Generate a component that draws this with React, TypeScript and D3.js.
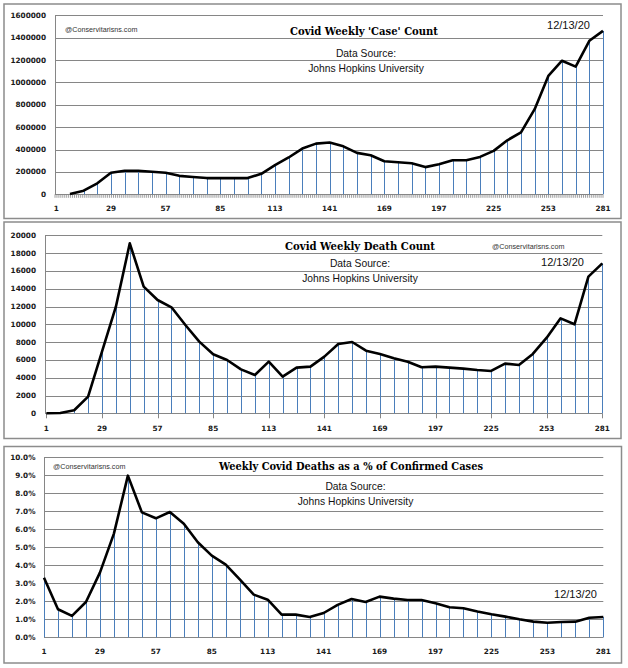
import React from "react";
import * as d3 from "d3";

// ---------- DATA ----------
const weekDays = [1, 8, 15, 22, 29, 36, 43, 50, 57, 64, 71, 78, 85, 92, 99, 106, 113, 120, 127, 134, 141, 148, 155, 162, 169, 176, 183, 190, 197, 204, 211, 218, 225, 232, 239, 246, 253, 260, 267, 274, 281];

const weeklyCases = [null, 3000, 32000, 98000, 192000, 210000, 210000, 201000, 192000, 165000, 154000, 145000, 145000, 145000, 145000, 183000, 260000, 329000, 409000, 453000, 463000, 429000, 370000, 349000, 296000, 287000, 278000, 243000, 269000, 305000, 305000, 334000, 388000, 483000, 554000, 761000, 1058000, 1194000, 1141000, 1372000, 1461000];

const weeklyDeaths = [10, 40, 340, 1870, 6930, 11980, 19100, 14230, 12730, 11910, 9920, 8050, 6630, 5990, 4940, 4310, 5800, 4120, 5130, 5240, 6370, 7790, 8010, 7040, 6670, 6180, 5800, 5170, 5240, 5130, 5020, 4870, 4760, 5580, 5430, 6670, 8500, 10670, 10000, 15350, 16850];

const deathPct = [3.31, 1.56, 1.19, 1.96, 3.59, 5.76, 8.98, 6.94, 6.61, 6.96, 6.31, 5.28, 4.54, 4.04, 3.22, 2.37, 2.09, 1.26, 1.26, 1.13, 1.35, 1.80, 2.13, 1.96, 2.26, 2.15, 2.07, 2.07, 1.89, 1.67, 1.61, 1.43, 1.28, 1.15, 1.00, 0.87, 0.81, 0.85, 0.87, 1.09, 1.13];

const xTickLabels = [1, 29, 57, 85, 113, 141, 169, 197, 225, 253, 281];
const caseTicks = [0, 200000, 400000, 600000, 800000, 1000000, 1200000, 1400000, 1600000];
const deathTicks = [0, 2000, 4000, 6000, 8000, 10000, 12000, 14000, 16000, 18000, 20000];
const pctTicks = [0, 1, 2, 3, 4, 5, 6, 7, 8, 9, 10];

const titles = [
  "Covid Weekly 'Case' Count",
  "Covid Weekly Death Count",
  "Weekly Covid Deaths as a % of Confirmed Cases",
];
const sourceLine1 = "Data Source:";
const sourceLine2 = "Johns Hopkins University";
const dateLabel = "12/13/20";
const watermark = "@Conservitarisns.com";

// ---------- STYLE ----------
const GRID = "#868686";
const DROP = "#4A7EBB";
const BORDER = "#8c8c8c";
const TICKFONT = "'DejaVu Sans', Verdana, sans-serif";
const SANS = "'Liberation Sans', Arial, sans-serif";
const SERIF = "'DejaVu Serif', 'Liberation Serif', serif";

type PanelCfg = {
  box: [number, number, number, number];
  axisX: number;
  x0: number;
  x1: number;
  yZero: number;
  yTop: number;
  yMax: number;
  ticks: number[];
  fmt: (v: number) => string;
  values: (number | null)[];
  labelY: number;
  labelRight: number;
  tickMode: "minor" | "major" | "none";
  title: [number, number, number];
  src: [number, number, number];
  date: [number, number];
  wm: [number, number, string];
};

function Panel({ c, title }: { c: PanelCfg; title: string }) {
  const x = d3.scaleLinear().domain([1, 281]).range([c.x0, c.x1]);
  const y = d3.scaleLinear().domain([0, c.yMax]).range([c.yZero, c.yTop]);
  const pts = weekDays.map((d, i) => ({ d, v: c.values[i] }));
  const line = d3
    .line<{ d: number; v: number | null }>()
    .defined((p) => p.v != null)
    .x((p) => x(p.d))
    .y((p) => y(p.v as number));
  const [bx, by, bw, bh] = c.box;
  const minor = d3.range(0, 282).map((k) => c.axisX + (k * (c.x1 - c.axisX)) / 281);
  return (
    <g>
      <rect x={bx} y={by} width={bw} height={bh} fill="white" stroke={BORDER} strokeWidth={1.5} />
      {c.ticks.map((t) => (
        <line key={"g" + t} x1={c.axisX} x2={c.x1} y1={Math.round(y(t)) + 0.5} y2={Math.round(y(t)) + 0.5} stroke={GRID} strokeWidth={1} />
      ))}
      <line x1={c.axisX + 0.5} x2={c.axisX + 0.5} y1={c.yTop} y2={c.yZero} stroke={GRID} strokeWidth={1} />
      {c.tickMode === "minor" &&
        minor.map((mx, k) => (
          <line key={"m" + k} x1={mx} x2={mx} y1={c.yZero} y2={c.yZero + 3.5} stroke={GRID} strokeWidth={0.8} />
        ))}
      {c.tickMode === "major" &&
        xTickLabels.map((d) => (
          <line key={"M" + d} x1={Math.round(x(d)) + 0.5} x2={Math.round(x(d)) + 0.5} y1={c.yZero} y2={c.yZero + 5} stroke={GRID} strokeWidth={1} />
        ))}
      {pts
        .filter((p) => p.v != null)
        .map((p) => (
          <line key={"d" + p.d} x1={Math.round(x(p.d)) + 0.5} x2={Math.round(x(p.d)) + 0.5} y1={y(p.v as number)} y2={c.yZero} stroke={DROP} strokeWidth={1} />
        ))}
      <path d={line(pts) || ""} fill="none" stroke="#000" strokeWidth={2.6} strokeLinejoin="round" strokeLinecap="butt" />
      {c.ticks.map((t) => (
        <text key={"yl" + t} x={c.labelRight} y={y(t)} dy="0.35em" textAnchor="end" fontFamily={TICKFONT} fontWeight="bold" fontSize={7.3} fill="#1a1a1a">
          {c.fmt(t)}
        </text>
      ))}
      {xTickLabels.map((d) => (
        <text key={"xl" + d} x={x(d)} y={c.labelY} dy="0.35em" textAnchor="middle" fontFamily={TICKFONT} fontWeight="bold" fontSize={7.3} fill="#1a1a1a">
          {d}
        </text>
      ))}
      <text x={c.title[0]} y={c.title[1]} dy="0.35em" textAnchor="middle" fontFamily={SERIF} fontWeight="bold" fontSize={10.5} textLength={c.title[2]} lengthAdjust="spacingAndGlyphs" fill="#000">
        {title}
      </text>
      <text x={c.src[0]} y={c.src[1]} dy="0.35em" textAnchor="middle" fontFamily={SANS} fontSize={10.3} fill="#111">
        {sourceLine1}
      </text>
      <text x={c.src[0]} y={c.src[2]} dy="0.35em" textAnchor="middle" fontFamily={SANS} fontSize={10.3} fill="#111">
        {sourceLine2}
      </text>
      <text x={c.date[0]} y={c.date[1]} dy="0.35em" textAnchor="middle" fontFamily={SANS} fontSize={11} fill="#111">
        {dateLabel}
      </text>
      <text x={c.wm[0]} y={c.wm[1]} dy="0.35em" textAnchor={c.wm[2] as any} fontFamily={SANS} fontSize={7.2} fill="#333">
        {watermark}
      </text>
    </g>
  );
}

const panels: PanelCfg[] = [
  {
    box: [4, 4, 617, 214.5],
    axisX: 55,
    x0: 56.3,
    x1: 603,
    yZero: 194.3,
    yTop: 15.3,
    yMax: 1600000,
    ticks: caseTicks,
    fmt: (v) => String(v),
    values: weeklyCases,
    labelY: 208,
    labelRight: 46,
    tickMode: "minor",
    title: [364, 31.5, 148],
    src: [366, 53, 68],
    date: [568.5, 25],
    wm: [65, 29, "start"],
  },
  {
    box: [4, 222, 617, 216.5],
    axisX: 45,
    x0: 46.4,
    x1: 602.3,
    yZero: 413.3,
    yTop: 235.3,
    yMax: 20000,
    ticks: deathTicks,
    fmt: (v) => String(v),
    values: weeklyDeaths,
    labelY: 428,
    labelRight: 36,
    tickMode: "major",
    title: [360, 246, 150],
    src: [360, 263, 278],
    date: [562.5, 262],
    wm: [492, 246, "start"],
  },
  {
    box: [4, 446.5, 617.5, 216.5],
    axisX: 44,
    x0: 44,
    x1: 603.3,
    yZero: 637.3,
    yTop: 457.3,
    yMax: 10,
    ticks: pctTicks,
    fmt: (v) => v.toFixed(1) + "%",
    values: deathPct,
    labelY: 651,
    labelRight: 35.5,
    tickMode: "none",
    title: [351, 466, 264],
    src: [355.5, 486, 501],
    date: [575.5, 594],
    wm: [53, 466, "start"],
  },
];

export default function App() {
  return (
    <div style={{ position: "absolute", left: 0, top: 0, background: "white" }}>
      <svg width={628} height={668} viewBox="0 0 628 668" style={{ display: "block" }}>
        <rect x={0} y={0} width={628} height={668} fill="white" />
        {panels.map((c, i) => (
          <Panel key={i} c={c} title={titles[i]} />
        ))}
      </svg>
    </div>
  );
}
